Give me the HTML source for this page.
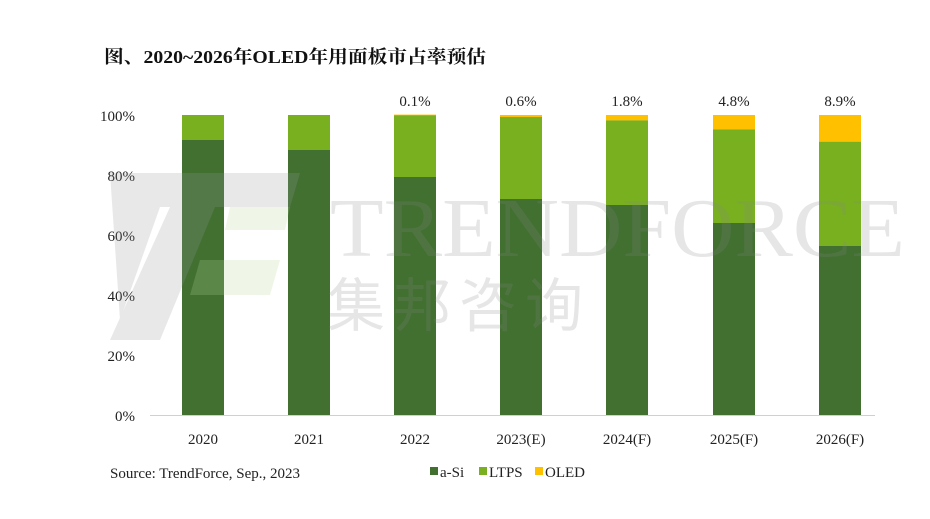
<!DOCTYPE html>
<html><head><meta charset="utf-8"><style>
html,body{margin:0;padding:0;background:#fff;}
svg{display:block;}
text{font-family:"Liberation Serif","Noto Serif CJK SC",serif;}
</style></head><body>
<svg width="930" height="519" viewBox="0 0 930 519" xmlns="http://www.w3.org/2000/svg">
<rect width="930" height="519" fill="#fff"/>
<text x="104" y="63" font-size="18" font-weight="bold" fill="#111" textLength="382" lengthAdjust="spacingAndGlyphs">图、2020~2026年OLED年用面板市占率预估</text>
<!-- y labels -->
<g font-size="15" fill="#222" text-anchor="end">
<text x="135" y="121">100%</text>
<text x="135" y="181">80%</text>
<text x="135" y="241">60%</text>
<text x="135" y="301">40%</text>
<text x="135" y="361">20%</text>
<text x="135" y="421">0%</text>
</g>
<line x1="150" y1="415.5" x2="875" y2="415.5" stroke="#d0d0d0" stroke-width="1"/>
<g>
<rect x="182" y="115" width="42" height="25" fill="#78b020"/><rect x="182" y="140" width="42" height="275" fill="#417031"/>
<rect x="288" y="115" width="42" height="35" fill="#78b020"/><rect x="288" y="150" width="42" height="265" fill="#417031"/>
<rect x="394" y="114.6" width="42" height="0.8" fill="#ffc000"/><rect x="394" y="115.3" width="42" height="61.7" fill="#78b020"/><rect x="394" y="177" width="42" height="238" fill="#417031"/>
<rect x="500" y="115" width="42" height="2" fill="#ffc000"/><rect x="500" y="117" width="42" height="82" fill="#78b020"/><rect x="500" y="199" width="42" height="216" fill="#417031"/>
<rect x="606" y="115" width="42" height="5.4" fill="#ffc000"/><rect x="606" y="120.4" width="42" height="84.6" fill="#78b020"/><rect x="606" y="205" width="42" height="210" fill="#417031"/>
<rect x="713" y="115" width="42" height="14.4" fill="#ffc000"/><rect x="713" y="129.4" width="42" height="93.6" fill="#78b020"/><rect x="713" y="223" width="42" height="192" fill="#417031"/>
<rect x="819" y="115" width="42" height="26.7" fill="#ffc000"/><rect x="819" y="141.7" width="42" height="104.3" fill="#78b020"/><rect x="819" y="246" width="42" height="169" fill="#417031"/>
</g>
<!-- watermark on top, translucent -->
<g opacity="0.22">
<polygon points="110,173 300,173 290,207 160,207 120,320" fill="#999"/>
<polygon points="170,207 215,207 160,340 110,340" fill="#999"/>
<polygon points="230,207 290,207 285,230 225,230" fill="#b8d89a"/>
<polygon points="200,260 280,260 270,295 190,295" fill="#b8d89a"/>
</g>
<text x="330" y="256" font-size="84" fill="#888" opacity="0.2" textLength="575" lengthAdjust="spacingAndGlyphs">TRENDFORCE</text>
<text x="327" y="326" font-size="58" fill="#888" opacity="0.2" style="font-family:'Noto Sans CJK SC',sans-serif" letter-spacing="8">集邦咨询</text>
<g font-size="15" fill="#222" text-anchor="middle">
<text x="415" y="106">0.1%</text>
<text x="521" y="106">0.6%</text>
<text x="627" y="106">1.8%</text>
<text x="734" y="106">4.8%</text>
<text x="840" y="106">8.9%</text>
<text x="203" y="444">2020</text>
<text x="309" y="444">2021</text>
<text x="415" y="444">2022</text>
<text x="521" y="444">2023(E)</text>
<text x="627" y="444">2024(F)</text>
<text x="734" y="444">2025(F)</text>
<text x="840" y="444">2026(F)</text>
</g>
<text x="110" y="478" font-size="15" fill="#222">Source: TrendForce, Sep., 2023</text>
<g font-size="15" fill="#222">
<rect x="430" y="467" width="8" height="8" fill="#417031"/><text x="440" y="477">a-Si</text>
<rect x="479" y="467" width="8" height="8" fill="#78b020"/><text x="489" y="477">LTPS</text>
<rect x="535" y="467" width="8" height="8" fill="#ffc000"/><text x="545" y="477">OLED</text>
</g>
</svg>
</body></html>
